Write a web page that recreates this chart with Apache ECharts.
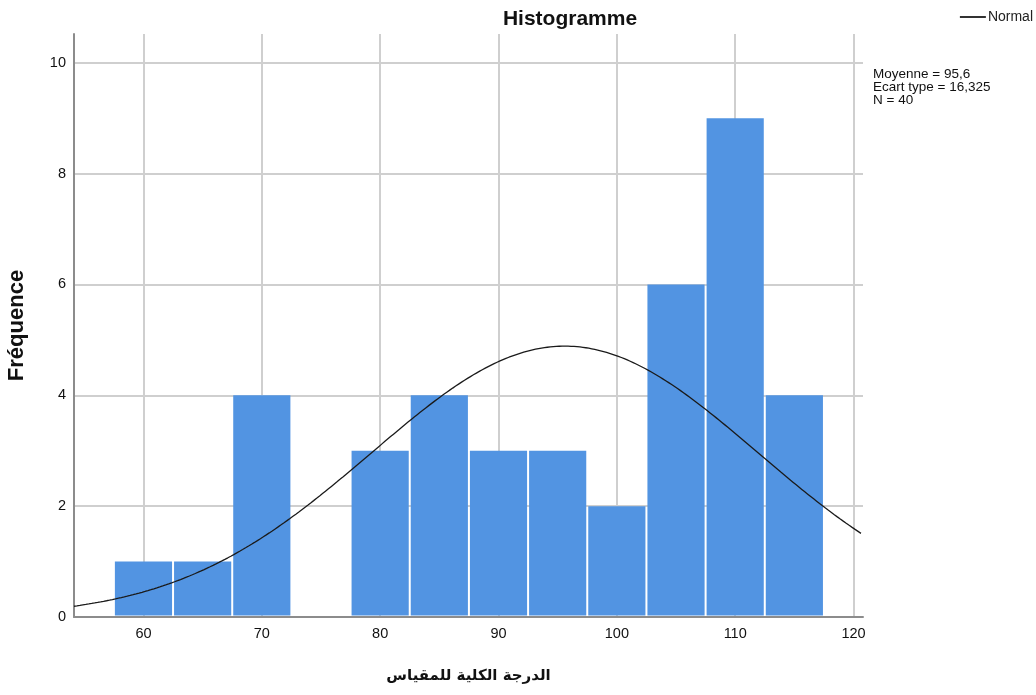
<!DOCTYPE html>
<html>
<head>
<meta charset="utf-8">
<script src="https://cdn.jsdelivr.net/npm/echarts@6/dist/echarts.min.js"></script>
<style>
  html, body { margin: 0; padding: 0; background: #fff; }
  #chart { width: 1036px; height: 695px; }
</style>
</head>
<body>
<div id="chart"></div>
<script>
// Histogram bins (width 5) of the total scale score, centred on these values
const binCenters = [60, 65, 70, 75, 80, 85, 90, 95, 100, 105, 110, 115];
const frequencies = [1, 1, 4, 0, 3, 4, 3, 3, 2, 6, 9, 4];
const binWidth = 5;

// Summary statistics shown beside the plot
const mean = 95.6;
const stdDev = 16.325;
const count = 40;

// Axis ticks
const xTicks = [60, 70, 80, 90, 100, 110, 120];
const yTicks = [0, 2, 4, 6, 8, 10];

const xMin = 54.13, xMax = 120.8;
const yMin = 0, yMax = 10.52;

// Normal curve scaled to counts: N * binWidth * density(mean, sd)
const normalCurve = [];
for (let x = xMin; x <= xMax + 1e-9; x += 0.25) {
  const z = (x - mean) / stdDev;
  const y = count * binWidth * Math.exp(-0.5 * z * z) / (stdDev * Math.sqrt(2 * Math.PI));
  normalCurve.push([x, y]);
}

const barData = binCenters.map((c, i) => [c, frequencies[i]]);
const font = '"Liberation Sans", Arial, "DejaVu Sans", sans-serif';

const chart = echarts.init(document.getElementById('chart'), null, { renderer: 'canvas' });
chart.setOption({
  animation: false,
  backgroundColor: '#ffffff',
  textStyle: { fontFamily: font },
  title: {
    text: 'Histogramme',
    left: 565, top: 4, textAlign: 'center',
    textStyle: { fontFamily: font, fontSize: 21, fontWeight: 'bold', color: '#111' }
  },
  legend: {
    right: -2, top: 5,
    itemWidth: 26, itemHeight: 2, itemGap: 4,
    icon: 'rect',
    textStyle: { fontFamily: font, fontSize: 14, color: '#222', padding: [0, 0, 0, -3] },
    data: [{ name: 'Normal', itemStyle: { color: '#333' } }]
  },
  graphic: [{
    type: 'text', left: 873, top: 67,
    style: {
      text: 'Moyenne = ' + String(mean).replace('.', ',') +
            '\nEcart type = ' + String(stdDev).replace('.', ',') +
            '\nN = ' + count,
      font: '13.5px ' + font, fill: '#111', lineHeight: 13
    }
  }],
  grid: { left: 74, top: 34, right: 173, bottom: 78, containLabel: false, outerBoundsMode: 'none' },
  xAxis: {
    type: 'value', min: xMin, max: xMax,
    name: 'الدرجة الكلية للمقياس',
    nameLocation: 'middle', nameGap: 52,
    nameTextStyle: { fontFamily: '"DejaVu Sans", sans-serif', fontSize: 15, fontWeight: 'bold', color: '#111' },
    axisLine: { show: true, lineStyle: { color: '#8c8c8c', width: 2 } },
    axisTick: { show: false, customValues: xTicks },
    axisLabel: { customValues: xTicks, fontFamily: font, fontSize: 14.5, color: '#111', margin: 9 },
    splitLine: { show: true, lineStyle: { color: '#cfcfcf', width: 2 } }
  },
  yAxis: {
    type: 'value', min: yMin, max: yMax,
    name: 'Fréquence',
    nameLocation: 'middle', nameGap: 46, nameRotate: 90,
    nameTextStyle: { fontFamily: font, fontSize: 22, fontWeight: 'bold', color: '#111' },
    axisLine: { show: true, lineStyle: { color: '#8c8c8c', width: 2 } },
    axisTick: { show: false, customValues: yTicks },
    axisLabel: { customValues: yTicks, fontFamily: font, fontSize: 14.5, color: '#111', margin: 8 },
    splitLine: { show: true, lineStyle: { color: '#cfcfcf', width: 2 } }
  },
  series: [
    {
      name: 'Fréquence',
      type: 'custom',
      data: barData,
      encode: { x: 0, y: 1 },
      renderItem: function (params, api) {
        const c = api.value(0), v = api.value(1);
        if (!v) return null;
        const p0 = api.coord([c - binWidth / 2, v]);
        const p1 = api.coord([c + binWidth / 2, 0]);
        // leave a thin white gap between neighbouring bars and above the baseline
        return {
          type: 'rect',
          shape: { x: p0[0] + 1, y: p0[1], width: p1[0] - p0[0] - 2, height: p1[1] - p0[1] - 1.5 },
          style: { fill: '#5294e2' }
        };
      },
      z: 2
    },
    {
      name: 'Normal',
      type: 'line',
      data: normalCurve,
      showSymbol: false,
      smooth: false,
      lineStyle: { color: '#1a1a1a', width: 1.3 },
      itemStyle: { color: '#333' },
      z: 3
    }
  ]
});
</script>
</body>
</html>
